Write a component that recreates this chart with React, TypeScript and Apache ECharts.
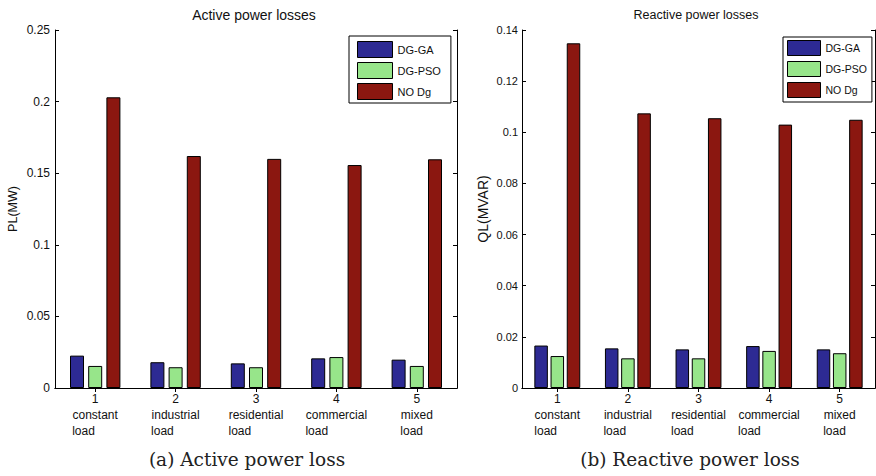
import React, { useEffect, useRef } from "react";
import * as echarts from "echarts";

const categories = ["1", "2", "3", "4", "5"];
const loadTypes = ["constant", "industrial", "residential", "commercial", "mixed"];
const seriesNames = ["DG-GA", "DG-PSO", "NO Dg"];

const activeGA = [0.0226, 0.018, 0.0172, 0.0207, 0.0198];
const activePSO = [0.0154, 0.0145, 0.0145, 0.0216, 0.0154];
const activeNoDG = [0.203, 0.162, 0.16, 0.1557, 0.1597];

const reactiveGA = [0.0166, 0.0155, 0.0151, 0.0164, 0.0151];
const reactivePSO = [0.0125, 0.0116, 0.0116, 0.0145, 0.0136];
const reactiveNoDG = [0.1348, 0.1074, 0.1055, 0.103, 0.1049];

const colors = ["#2d2a93", "#97e58a", "#8b1710"];

const SANS = "'Liberation Sans', Arial, Helvetica, sans-serif";
const SERIF = "'DejaVu Serif', 'Liberation Serif', serif";
const TXT = "#111";

function measure(text: string, size: number) {
  const c = document.createElement("canvas");
  const ctx = c.getContext("2d");
  if (!ctx) return text.length * size * 0.55;
  ctx.font = `${size}px ${SANS}`;
  return ctx.measureText(text).width;
}

export default function App() {
  const ref = useRef<HTMLDivElement>(null);
  useEffect(() => {
    if (!ref.current) return;
    const chart = echarts.init(ref.current, undefined, { renderer: "svg" });

    const rich: Record<string, any> = {
      n: { fontSize: 12, lineHeight: 16, fontFamily: SANS, color: TXT },
      w: { fontSize: 12, lineHeight: 16, fontFamily: SANS, color: TXT },
    };
    loadTypes.forEach((t, i) => {
      rich["l" + i] = {
        fontSize: 12,
        lineHeight: 16,
        fontFamily: SANS,
        color: TXT,
        width: Math.ceil(measure(t, 12)),
        align: "left",
      };
    });

    const bottomX = (gridIndex: number) => ({
      type: "category",
      gridIndex,
      data: categories,
      position: "bottom",
      axisLine: { show: true, lineStyle: { color: "#000", width: 1 } },
      axisTick: { show: true, inside: true, alignWithLabel: true, length: 4, lineStyle: { color: "#000" } },
      axisLabel: {
        interval: 0,
        margin: 3,
        formatter: (v: string, i: number) => `{n|${v}}\n{w|${loadTypes[i]}}\n{l${i}|load}`,
        rich,
      },
      splitLine: { show: false },
    });
    const topX = (gridIndex: number) => ({
      type: "category",
      gridIndex,
      data: categories,
      position: "top",
      axisLine: { show: true, lineStyle: { color: "#000", width: 1 } },
      axisTick: { show: true, inside: true, alignWithLabel: true, length: 4, lineStyle: { color: "#000" } },
      axisLabel: { show: false },
      splitLine: { show: false },
    });
    const leftY = (gridIndex: number, max: number, interval: number, name: string, fs: number, nfs: number, nameGap: number, margin: number) => ({
      type: "value",
      gridIndex,
      min: 0,
      max,
      interval,
      position: "left",
      name,
      nameLocation: "middle",
      nameGap,
      nameTextStyle: { fontSize: nfs, fontFamily: SANS, color: TXT },
      axisLine: { show: true, lineStyle: { color: "#000", width: 1 } },
      axisTick: { show: true, inside: true, length: 4, lineStyle: { color: "#000" } },
      axisLabel: { fontSize: fs, fontFamily: SANS, color: TXT, margin },
      splitLine: { show: false },
    });
    const rightY = (gridIndex: number, max: number, interval: number) => ({
      type: "value",
      gridIndex,
      min: 0,
      max,
      interval,
      position: "right",
      axisLine: { show: true, lineStyle: { color: "#000", width: 1 } },
      axisTick: { show: true, inside: true, length: 4, lineStyle: { color: "#000" } },
      axisLabel: { show: false },
      splitLine: { show: false },
    });

    const bar = (name: string, data: number[], color: string, xi: number, yi: number, w: number, gap: string) => ({
      type: "bar",
      name,
      data,
      xAxisIndex: xi,
      yAxisIndex: yi,
      barWidth: w,
      barGap: gap,
      itemStyle: { color, borderColor: "#000", borderWidth: 1 },
    });

    const legendBase = {
      orient: "vertical",
      icon: "rect",
      selectedMode: false,
      borderColor: "#000",
      borderWidth: 1,
      backgroundColor: "#fff",
      itemStyle: { borderColor: "#000", borderWidth: 1 },
      data: seriesNames,
    };

    chart.setOption({
      animation: false,
      backgroundColor: "#fff",
      title: [
        { text: "Active power losses", left: 254, top: 8, textAlign: "center", padding: 0, textStyle: { fontSize: 14, fontWeight: "normal", fontFamily: SANS, color: TXT } },
        { text: "Reactive power losses", left: 696, top: 8, textAlign: "center", padding: 0, textStyle: { fontSize: 12.5, fontWeight: "normal", fontFamily: SANS, color: TXT } },
        { text: "(a) Active power loss", left: 247, top: 450, textAlign: "center", padding: 0, textStyle: { fontSize: 18.5, fontWeight: "normal", fontFamily: SERIF, color: "#222" } },
        { text: "(b) Reactive power loss", left: 690, top: 450, textAlign: "center", padding: 0, textStyle: { fontSize: 18.5, fontWeight: "normal", fontFamily: SERIF, color: "#222" } },
      ],
      legend: [
        { ...legendBase, left: 349, top: 36, itemWidth: 35, itemHeight: 16, itemGap: 4, padding: [5, 10, 3, 8], textStyle: { fontSize: 11, fontFamily: SANS, color: TXT } },
        { ...legendBase, left: 783, top: 37, itemWidth: 33, itemHeight: 15, itemGap: 5, padding: [3, 5, 4, 4], textStyle: { fontSize: 10.5, fontFamily: SANS, color: TXT } },
      ],
      grid: [
        { left: 55, top: 30, width: 402, height: 358 },
        { left: 522, top: 30, width: 353, height: 358 },
      ],
      xAxis: [bottomX(0), topX(0), bottomX(1), topX(1)],
      yAxis: [
        leftY(0, 0.25, 0.05, "PL(MW)", 12, 12.5, 36, 5),
        rightY(0, 0.25, 0.05),
        leftY(1, 0.14, 0.02, "QL(MVAR)", 11, 14, 32, 4),
        rightY(1, 0.14, 0.02),
      ],
      series: [
        bar(seriesNames[0], activeGA, colors[0], 0, 0, 14, "30%"),
        bar(seriesNames[1], activePSO, colors[1], 0, 0, 14, "30%"),
        bar(seriesNames[2], activeNoDG, colors[2], 0, 0, 14, "30%"),
        bar(seriesNames[0], reactiveGA, colors[0], 2, 2, 13.5, "20%"),
        bar(seriesNames[1], reactivePSO, colors[1], 2, 2, 13.5, "20%"),
        bar(seriesNames[2], reactiveNoDG, colors[2], 2, 2, 13.5, "20%"),
      ],
    });
    return () => chart.dispose();
  }, []);

  return (
    <div
      ref={ref}
      style={{ position: "fixed", left: 0, top: 0, width: 876, height: 476, background: "#fff" }}
    />
  );
}
